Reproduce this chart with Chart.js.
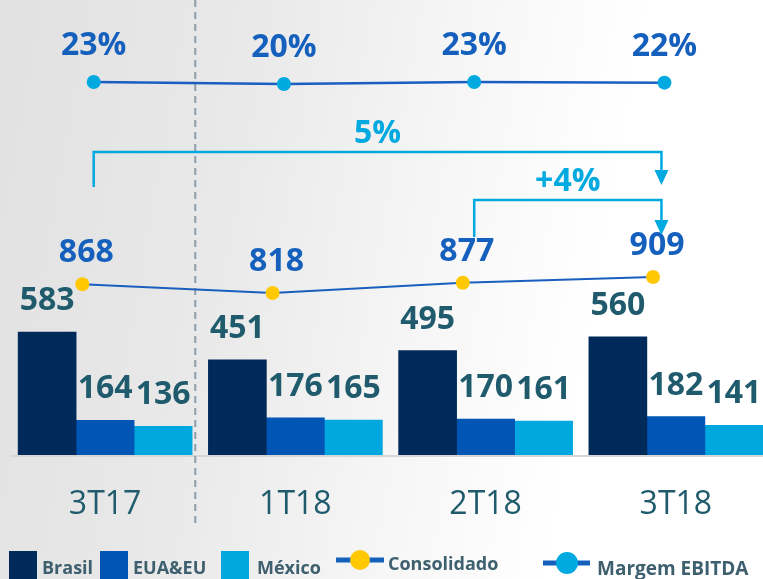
<!DOCTYPE html>
<html>
<head>
<meta charset="utf-8">
<script src="https://cdn.jsdelivr.net/npm/chart.js@4.4.1/dist/chart.umd.min.js"></script>
<style>
  html, body { margin: 0; padding: 0; overflow: hidden; width: 763px; height: 579px; }
  body { background: linear-gradient(100deg, #e1e1e1 0%, #e9e9e9 30%, #f6f6f6 55%, #ffffff 75%); }
  #wrap { width: 776px; height: 579px; }
</style>
</head>
<body>
<div id="wrap"><canvas id="chart" width="776" height="579"></canvas></div>
<script>
var categories = ['3T17', '1T18', '2T18', '3T18'];
var brasil = [583, 451, 495, 560];
var euaEu = [164, 176, 170, 182];
var mexico = [136, 165, 161, 141];
var consolidado = [868, 818, 877, 909];
var margem = [23, 20, 23, 22];
var growth = [
    { label: '5%', from: 0, to: 3, top: 152, leg: 187 },
    { label: '+4%', from: 2, to: 3, top: 200, leg: 237 }
];

var FONT = '"Open Sans", "Liberation Sans", sans-serif';
var valueColor = '#1f5b6c';
var blueText = '#1560bd';
var cyan = '#00a9e0';

// shift lets a line sit a little left of the category centre, as in the slide
function points(values, shift) {
    return values.map(function (v, i) { return { x: i + (shift || 0), y: v }; });
}

var overlay = {
    id: 'overlay',
    beforeDatasetsDraw: function (chart) {
        var c = chart.ctx, area = chart.chartArea;
        var xs = chart.scales.x;
        c.save();
        // base line
        c.strokeStyle = '#d6d6d6';
        c.lineWidth = 2;
        c.beginPath();
        c.moveTo(area.left, area.bottom + 1);
        c.lineTo(area.right, area.bottom + 1);
        c.stroke();
        // dashed separator between 3T17 and the 2018 quarters
        var sx = xs.getPixelForValue(0.5) - 5;
        c.strokeStyle = '#8d9daa';
        c.lineWidth = 2;
        c.setLineDash([7, 5]);
        c.beginPath();
        c.moveTo(sx, 0);
        c.lineTo(sx, 525);
        c.stroke();
        c.restore();
    },
    afterDatasetsDraw: function (chart) {
        var c = chart.ctx;
        c.save();
        c.textAlign = 'center';
        c.textBaseline = 'alphabetic';

        // bar values
        c.font = 'bold 32px ' + FONT;
        c.fillStyle = valueColor;
        [brasil, euaEu, mexico].forEach(function (vals, d) {
            chart.getDatasetMeta(d).data.forEach(function (bar, i) {
                c.fillText(vals[i], bar.x, bar.y - 22);
            });
        });

        // consolidado values
        c.fillStyle = blueText;
        chart.getDatasetMeta(3).data.forEach(function (pt, i) {
            c.fillText(consolidado[i], pt.x + 4, pt.y - 22);
        });

        // margem values
        var mMeta = chart.getDatasetMeta(4).data;
        mMeta.forEach(function (pt, i) {
            c.fillText(margem[i] + '%', pt.x, pt.y - 27);
        });

        // growth brackets
        c.strokeStyle = cyan;
        c.fillStyle = cyan;
        c.lineWidth = 2.5;
        growth.forEach(function (g) {
            var x0 = mMeta[g.from].x, x1 = mMeta[g.to].x - 3;
            var tip = g.leg - 2;
            c.beginPath();
            c.moveTo(x0, g.leg);
            c.lineTo(x0, g.top);
            c.lineTo(x1, g.top);
            c.lineTo(x1, tip - 14);
            c.stroke();
            c.beginPath();
            c.moveTo(x1 - 7, tip - 15);
            c.lineTo(x1 + 7, tip - 15);
            c.lineTo(x1, tip);
            c.closePath();
            c.fill();
            c.fillText(g.label, (x0 + x1) / 2, g.top - 9);
        });

        // category labels
        c.font = '32px ' + FONT;
        c.fillStyle = valueColor;
        categories.forEach(function (cat, i) {
            c.fillText(cat, chart.scales.x.getPixelForValue(i), 514);
        });

        // legend
        var ds = chart.data.datasets;
        c.textAlign = 'left';
        c.font = 'bold 18px ' + FONT;
        var boxes = [[9, 42], [100, 133], [221, 257]];
        boxes.forEach(function (b, d) {
            c.fillStyle = ds[d].backgroundColor;
            c.fillRect(b[0], 551, 28, 28);
            c.fillStyle = '#3d5f6e';
            c.fillText(ds[d].label, b[1], 574);
        });
        var lines = [[336, 384, 360, 560, 10, '#ffc800', 388, 570, 18], [543, 590, 567, 563, 11, cyan, 597, 575, 19]];
        lines.forEach(function (l, k) {
            c.strokeStyle = blueText;
            c.lineWidth = 5;
            c.beginPath();
            c.moveTo(l[0], l[3]);
            c.lineTo(l[1], l[3]);
            c.stroke();
            c.fillStyle = l[5];
            c.beginPath();
            c.arc(l[2], l[3], l[4], 0, Math.PI * 2);
            c.fill();
            c.fillStyle = '#3d5f6e';
            c.font = 'bold ' + l[8] + 'px ' + FONT;
            c.fillText(ds[3 + k].label, l[6], l[7]);
        });
        c.restore();
    }
};

new Chart(document.getElementById('chart'), {
    data: {
        datasets: [
            { type: 'bar', label: 'Brasil', data: points(brasil), backgroundColor: '#002a5a', barThickness: 58, order: 5 },
            { type: 'bar', label: 'EUA&EU', data: points(euaEu), backgroundColor: '#0055b5', barThickness: 58, order: 5 },
            { type: 'bar', label: 'México', data: points(mexico), backgroundColor: '#00a8df', barThickness: 58, order: 5 },
            {
                type: 'line', label: 'Consolidado', data: points(consolidado, -0.12),
                yAxisID: 'yc', borderColor: '#1a5fbf', borderWidth: 2,
                pointBackgroundColor: '#ffc800', pointBorderWidth: 0, pointRadius: 7, order: 1
            },
            {
                type: 'line', label: 'Margem EBITDA', data: points(margem, -0.06),
                yAxisID: 'ym', borderColor: '#1a5fbf', borderWidth: 2.5,
                pointBackgroundColor: cyan, pointBorderWidth: 0, pointRadius: 7, order: 1
            }
        ]
    },
    options: {
        responsive: false,
        animation: false,
        layout: { autoPadding: false, padding: { left: 10, right: 5, top: 0, bottom: 124 } },
        scales: {
            x: { type: 'linear', display: false, offset: false, min: -0.5, max: 3.5 },
            y: { display: false, min: 0, max: 2156 },
            yc: { display: false, min: -102, max: 2483 },
            ym: { display: false, min: -534, max: 145.4 }
        },
        plugins: { legend: { display: false }, tooltip: { enabled: false } }
    },
    plugins: [overlay]
});
</script>
</body>
</html>
